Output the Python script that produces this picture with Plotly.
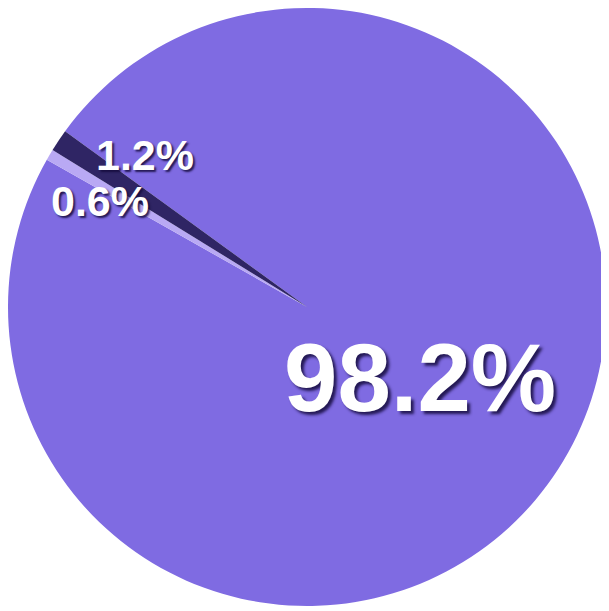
import math
import plotly.graph_objects as go

labels = ["Main", "Minor B", "Minor A"]
values = [98.2, 0.6, 1.2]
colors = ["#7f6be2", "#b9a9f4", "#2f2564"]

W, H = 609, 611
cx, cy, R = 299, 299, 299
rotation = 306

fig = go.Figure(go.Pie(
    labels=labels,
    values=values,
    sort=False,
    direction="clockwise",
    rotation=rotation,
    marker=dict(colors=colors, line=dict(width=0)),
    textinfo="none",
    showlegend=False,
    hoverinfo="skip",
    domain=dict(x=[(cx - R) / W, (cx + R) / W], y=[(H - cy - R) / H, (H - cy + R) / H]),
))

# percentage labels placed from slice mid-angles
total = sum(values)
cum = 0
# (angle nudge in degrees, radius fraction, font size, vertical pixel shift)
placement = {0: (0, 0.45, 96, 2), 1: (-4.4, 0.772, 43, 4), 2: (8.4, 0.732, 43, 5)}
annotations = []
for i, v in enumerate(values):
    mid = rotation + (cum + v / 2) / total * 360
    cum += v
    dang, rf, fs, ys = placement[i]
    a = math.radians(mid + dang)
    px = cx + R * rf * math.sin(a)
    py = cy - R * rf * math.cos(a)
    annotations.append(dict(
        x=px / W, y=1 - py / H, xref="paper", yref="paper", yshift=ys,
        text=f"{v:.1f}%", showarrow=False, xanchor="center", yanchor="middle",
        font=dict(family="Liberation Sans, Arial, sans-serif", size=fs, color="white",
                  weight="bold",
                  shadow="3px 3px 3px rgba(20,10,60,0.85)" if i == 0 else "2px 2px 2px rgba(20,10,60,0.85)"),
    ))

fig.update_layout(
    width=W, height=H,
    margin=dict(l=0, r=0, t=0, b=0),
    paper_bgcolor="white",
    plot_bgcolor="white",
    annotations=annotations,
)

fig.write_html("out.html")
